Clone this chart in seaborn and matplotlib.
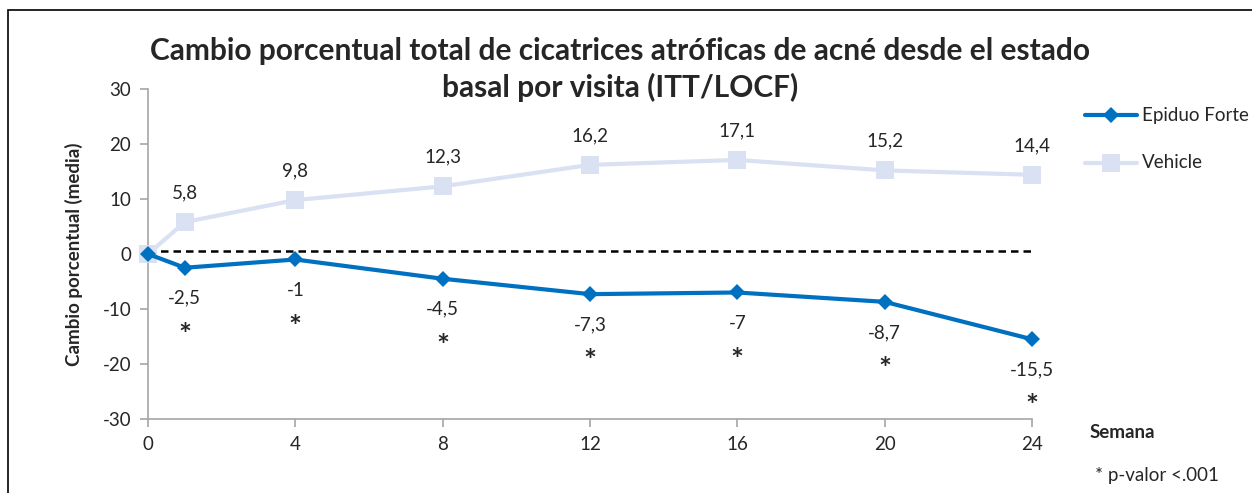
import pandas as pd
import matplotlib.pyplot as plt
import seaborn as sns

semanas = [0, 1, 4, 8, 12, 16, 20, 24]
epiduo = [0, -2.5, -1, -4.5, -7.3, -7, -8.7, -15.5]
vehicle = [0, 5.8, 9.8, 12.3, 16.2, 17.1, 15.2, 14.4]
epiduo_labels = ["", "-2,5", "-1", "-4,5", "-7,3", "-7", "-8,7", "-15,5"]
vehicle_labels = ["", "5,8", "9,8", "12,3", "16,2", "17,1", "15,2", "14,4"]
xticks = [0, 4, 8, 12, 16, 20, 24]

df = pd.DataFrame({
    "Semana": semanas * 2,
    "valor": epiduo + vehicle,
    "serie": ["Epiduo Forte"] * len(semanas) + ["Vehicle"] * len(semanas),
})

sns.set_style("white")
plt.rcParams["font.family"] = ["Lato", "DejaVu Sans"]
plt.rcParams["axes.unicode_minus"] = False

fig = plt.figure(figsize=(12.52, 4.93), dpi=100)
ax = fig.add_axes([0.1182, 0.1501, 0.8243 - 0.1182, 0.8195 - 0.1501])

blue = "#0070C0"
light = "#D9E1F2"
fs = 13.5

ax.axhline(0.6, xmin=0, xmax=1, color="black", ls=(0, (3, 2)), lw=1.8, zorder=1)

sns.lineplot(data=df, x="Semana", y="valor", hue="serie", style="serie",
             palette={"Epiduo Forte": blue, "Vehicle": light},
             markers={"Epiduo Forte": "D", "Vehicle": "s"},
             dashes=False, lw=3, markeredgewidth=0, ax=ax, legend=False,
             hue_order=["Vehicle", "Epiduo Forte"], zorder=3, clip_on=False)
for line in ax.lines[1:]:
    if line.get_color() == light:
        line.set_markersize(13)
    else:
        line.set_markersize(8)

for x, y, lab in zip(semanas, epiduo, epiduo_labels):
    if lab:
        ax.annotate(lab, (x, y), xytext=(0, -22), textcoords="offset points",
                    ha="center", va="center", fontsize=fs)
        ax.annotate("*", (x, y), xytext=(0, -49), textcoords="offset points",
                    ha="center", va="center", fontsize=22, fontweight="bold")
for x, y, lab in zip(semanas, vehicle, vehicle_labels):
    if lab:
        ax.annotate(lab, (x, y), xytext=(0, 21), textcoords="offset points",
                    ha="center", va="center", fontsize=fs)

ax.set_xlim(0, 24)
ax.set_ylim(-30, 30)
ax.set_xticks(xticks)
ax.set_yticks(range(-30, 31, 10))
ax.tick_params(axis="both", direction="out", length=6, color="#A6A6A6",
               width=1.2, labelsize=fs, bottom=True, left=True, pad=6)
for side in ["top", "right"]:
    ax.spines[side].set_visible(False)
for side in ["left", "bottom"]:
    ax.spines[side].set_color("#A6A6A6")
    ax.spines[side].set_linewidth(1.2)
ax.set_xlabel("")
ax.set_ylabel("Cambio porcentual (media)", fontsize=fs, fontweight="bold", labelpad=14)

fig.text(0.495, 0.859, "Cambio porcentual total de cicatrices atróficas de acné desde el estado\nbasal por visita (ITT/LOCF)",
         ha="center", va="center", fontsize=21.5, fontweight="bold", linespacing=1.3)
fig.text(1122 / 1252, 1 - 433 / 493, "Semana", ha="center", va="center",
         fontsize=fs, fontweight="bold")
fig.text(1095 / 1252, 1 - 475 / 493, "* p-valor <.001", ha="left", va="center", fontsize=fs)

# legend drawn by hand at the right
leg = [("Epiduo Forte", blue, "D", 8, 115), ("Vehicle", light, "s", 13, 163)]
for name, col, mk, ms, ypix in leg:
    yf = 1 - ypix / 493
    fig.add_artist(plt.Line2D([1085 / 1252, 1137 / 1252], [yf, yf], color=col, lw=3))
    fig.add_artist(plt.Line2D([1111 / 1252], [yf], color=col, marker=mk, ms=ms, mew=0))
    fig.text(1142 / 1252, yf, name, ha="left", va="center", fontsize=fs)

# outer chart border (left and top visible)
fig.add_artist(plt.Rectangle((8 / 1252, -0.1), 1.2, 1 - 10 / 493 + 0.1, fill=False,
                             ec="black", lw=1.2, transform=fig.transFigure))

fig.savefig("out.png", dpi=100)
